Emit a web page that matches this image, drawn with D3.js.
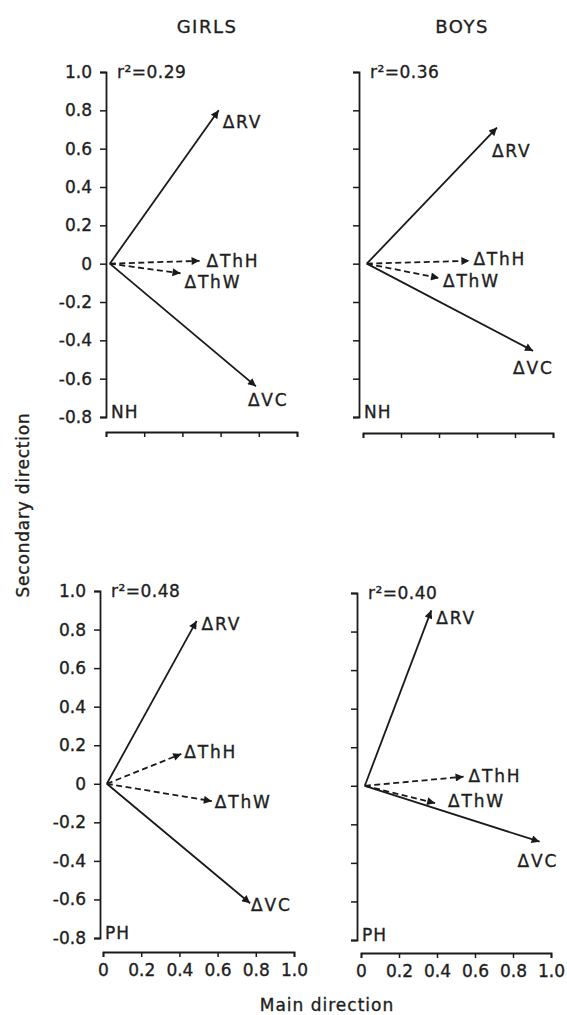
<!DOCTYPE html>
<html>
<head>
<meta charset="utf-8">
<script src="https://cdn.jsdelivr.net/npm/d3@7/dist/d3.min.js"></script>
<style>
  html, body { margin: 0; padding: 0; background: #fff; }
  svg { display: block; }
  text { font-family: "DejaVu Sans", sans-serif; fill: #1e1e1e; stroke: #1e1e1e; stroke-width: 0.35px; }
</style>
</head>
<body>
<svg id="chart" width="567" height="1015"></svg>
<script>
// ---------- data ----------
const variables = ["ΔRV", "ΔThH", "ΔThW", "ΔVC"];
const dashedVars = ["ΔThH", "ΔThW"];
const groups = ["GIRLS", "BOYS"];
const phases = ["NH", "PH"];
const rSquared = [0.29, 0.36, 0.48, 0.40];      // GIRLS NH, BOYS NH, GIRLS PH, BOYS PH

const girlsNHMain      = [0.59, 0.49, 0.39, 0.785];
const girlsNHSecondary = [0.80, 0.015, -0.05, -0.64];
const boysNHMain       = [0.705, 0.56, 0.40, 0.895];
const boysNHSecondary  = [0.71, 0.015, -0.075, -0.455];
const girlsPHMain      = [0.49, 0.41, 0.57, 0.77];
const girlsPHSecondary = [0.845, 0.155, -0.09, -0.62];
const boysPHMain       = [0.37, 0.54, 0.39, 0.94];
const boysPHSecondary  = [0.91, 0.047, -0.09, -0.29];
const originMain = 0.02, originSecondary = 0;

const xTicks = [0, 0.2, 0.4, 0.6, 0.8, 1.0];
const xTickLabels = ["0", "0.2", "0.4", "0.6", "0.8", "1.0"];
const yTicks = [1.0, 0.8, 0.6, 0.4, 0.2, 0, -0.2, -0.4, -0.6, -0.8];
const yTickLabels = ["1.0", "0.8", "0.6", "0.4", "0.2", "0", "-0.2", "-0.4", "-0.6", "-0.8"];

// ---------- layout (positions only) ----------
const panels = [
  { main: girlsNHMain, sec: girlsNHSecondary, r2: rSquared[0], phase: phases[0],
    yAxisX: 106, x0: 106, x1: 297, yTop: 72, yBot: 417, xAxisY: 432, yLabels: true, xLabels: false,
    lab: [[4, 12], [7, 0], [4, 9], [-8, 14]] },
  { main: boysNHMain, sec: boysNHSecondary, r2: rSquared[1], phase: phases[0],
    yAxisX: 359, x0: 363, x1: 553, yTop: 72, yBot: 417, xAxisY: 433, yLabels: false, xLabels: false,
    lab: [[-5, 23], [4, -2], [4, 3], [-20, 17]] },
  { main: girlsPHMain, sec: girlsPHSecondary, r2: rSquared[2], phase: phases[1],
    yAxisX: 100, x0: 103, x1: 294, yTop: 591, yBot: 938, xAxisY: 952, yLabels: true, xLabels: true,
    lab: [[5, 3], [3, -2], [3, 1], [1, 2]] },
  { main: boysPHMain, sec: boysPHSecondary, r2: rSquared[3], phase: phases[1],
    yAxisX: 357, x0: 361, x1: 551, yTop: 593, yBot: 940, xAxisY: 953, yLabels: false, xLabels: true,
    lab: [[5, 8], [5, -1], [13, -2], [-22, 19]] }
];

const svg = d3.select("#chart");
const ink = "#1a1a1a";

svg.append("defs").append("marker")
  .attr("id", "head")
  .attr("viewBox", "0 0 10 10")
  .attr("refX", 10).attr("refY", 5)
  .attr("markerUnits", "userSpaceOnUse")
  .attr("markerWidth", 11).attr("markerHeight", 8)
  .attr("orient", "auto")
  .append("path")
  .attr("d", "M0,0 L10,5 L0,10 Z")
  .attr("fill", ink);

// column titles
svg.append("text").attr("x", 207).attr("y", 33).attr("text-anchor", "middle")
  .style("font-size", "18px").style("letter-spacing", "1.5px").text(groups[0]);
svg.append("text").attr("x", 462).attr("y", 33).attr("text-anchor", "middle")
  .style("font-size", "18px").style("letter-spacing", "1.5px").text(groups[1]);

// axis titles
svg.append("text").attr("transform", "translate(29,505) rotate(-90)").attr("text-anchor", "middle")
  .style("font-size", "17px").style("letter-spacing", "0.8px").text("Secondary direction");
svg.append("text").attr("x", 327).attr("y", 1011).attr("text-anchor", "middle")
  .style("font-size", "17px").style("letter-spacing", "1px").text("Main direction");

panels.forEach(p => {
  const x = d3.scaleLinear().domain([0, 1]).range([p.x0, p.x1]);
  const y = d3.scaleLinear().domain([-0.8, 1.0]).range([p.yBot, p.yTop]);
  const g = svg.append("g");

  // y axis
  const ya = d3.axisLeft(y).tickValues(yTicks).tickSize(6).tickSizeOuter(6).tickPadding(8)
    .tickFormat((d, i) => p.yLabels ? yTickLabels[i] : "");
  const yg = g.append("g").attr("transform", `translate(${p.yAxisX},0)`).call(ya);
  yg.select(".domain").attr("stroke", ink).attr("stroke-width", 1.8);
  yg.selectAll(".tick line").attr("stroke", ink).attr("stroke-width", 1.5);
  yg.selectAll(".tick text").style("font-size", "17px").style("font-family", "DejaVu Sans")
    .attr("fill", "#1e1e1e");

  // x axis
  const xa = d3.axisBottom(x).tickValues(xTicks).tickSize(5).tickSizeOuter(5).tickPadding(7)
    .tickFormat((d, i) => p.xLabels ? xTickLabels[i] : "");
  const xg = g.append("g").attr("transform", `translate(0,${p.xAxisY})`).call(xa);
  xg.select(".domain").attr("stroke", ink).attr("stroke-width", 1.8);
  xg.selectAll(".tick line").attr("stroke", ink).attr("stroke-width", 1.5);
  xg.selectAll(".tick text").style("font-size", "17px").style("font-family", "DejaVu Sans")
    .attr("fill", "#1e1e1e");

  // vectors
  variables.forEach((v, i) => {
    const dashed = dashedVars.includes(v);
    g.append("line")
      .attr("x1", x(originMain)).attr("y1", y(originSecondary))
      .attr("x2", x(p.main[i])).attr("y2", y(p.sec[i]))
      .attr("stroke", ink).attr("stroke-width", 1.8)
      .attr("stroke-dasharray", dashed ? "6,3.5" : null)
      .attr("marker-end", "url(#head)");
    g.append("text")
      .attr("x", x(p.main[i]) + p.lab[i][0])
      .attr("y", y(p.sec[i]) + p.lab[i][1])
      .attr("dy", "0.36em")
      .style("font-size", "17px").style("letter-spacing", "1.8px")
      .text(v);
  });

  // r² label
  g.append("text").attr("x", p.yAxisX + 11).attr("y", p.yTop).attr("dy", "0.36em")
    .style("font-size", "17px").style("letter-spacing", "0.5px")
    .text("r²=" + p.r2.toFixed(2));

  // phase label
  g.append("text").attr("x", p.yAxisX + 5).attr("y", p.yBot - 5).attr("dy", "0.36em")
    .style("font-size", "17px").style("letter-spacing", "1px")
    .text(p.phase);
});
</script>
</body>
</html>
